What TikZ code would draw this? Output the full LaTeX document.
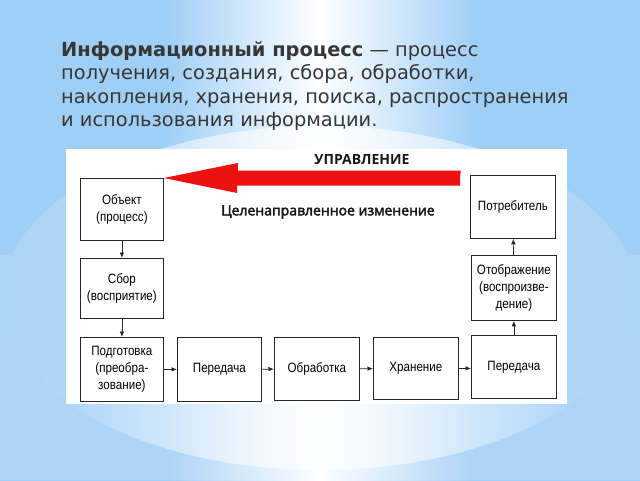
\documentclass[tikz,border=0pt]{standalone}
\usepackage{fontspec}
\setmainfont{DejaVu Sans}
\newfontfamily\boxfont[FakeStretch=0.86]{Liberation Sans}
\newfontfamily\panelfont{Open Sans}
\newfontfamily\semifont[FakeBold=3]{Open Sans}
\usetikzlibrary{arrows.meta}
\definecolor{bgblue}{RGB}{160,207,246}
\definecolor{txtgray}{RGB}{55,55,55}
\definecolor{arrred}{RGB}{236,18,18}
\pgfdeclarehorizontalshading{streak}{100bp}{color(0bp)=(bgblue); color(25bp)=(bgblue); color(38bp)=(bgblue); color(50bp)=(white); color(62bp)=(bgblue); color(75bp)=(bgblue); color(100bp)=(bgblue)}
\pgfdeclarehorizontalshading{glow}{100bp}{color(0bp)=(bgblue!89!white); color(25bp)=(bgblue!89!white); color(30bp)=(bgblue!85!white); color(38bp)=(bgblue!50!white); color(45bp)=(bgblue!15!white); color(50bp)=(white); color(55bp)=(bgblue!15!white); color(62bp)=(bgblue!50!white); color(70bp)=(bgblue!85!white); color(75bp)=(bgblue!89!white); color(100bp)=(bgblue!89!white)}
\begin{document}
\begin{tikzpicture}[x=1pt,y=-1pt,
  box/.style={draw=black!85, line width=0.8pt, fill=white, anchor=north west,
    align=center, inner sep=0pt, font=\boxfont\fontsize{13.5}{17}\selectfont},
  link/.style={-{Latex[length=5.5pt,width=4.5pt]}, line width=0.7pt, black!85}]
\useasboundingbox (0,0) rectangle (640,480);
% background
\shade[shading=streak] (0,0) rectangle (640,480);
\fill[white, opacity=0.12] (0,255) rectangle (640,480);
\shade[shading=glow] (320,298) ellipse (318 and 172);
% title
\node[anchor=north west, align=left, text=txtgray, inner sep=0pt,
  font=\fontsize{19.4}{23.5}\selectfont] (title) at (61,41)
  {\textbf{Информационный процесс} — процесс\\
   получения, создания, сбора, обработки,\\
   накопления, хранения, поиска, распространения\\
   и использования информации.};
% panel
\fill[white] (66,149) rectangle (567,404);
% boxes
\node[box, minimum width=83pt, minimum height=62pt] (obj) at (80,178) {Объект\\(процесс)};
\node[box, minimum width=83pt, minimum height=60pt] (sbor) at (80,258) {Сбор\\(восприятие)};
\node[box, minimum width=83pt, minimum height=64pt] (podg) at (80,337) {Подготовка\\(преобра-\\зование)};
\node[box, minimum width=84pt, minimum height=64pt] (per1) at (177,337) {Передача};
\node[box, minimum width=85pt, minimum height=63pt] (obr) at (274,337) {Обработка};
\node[box, minimum width=85pt, minimum height=62pt] (hran) at (373,337) {Хранение};
\node[box, minimum width=85pt, minimum height=63pt] (per2) at (471,335) {Передача};
\node[box, minimum width=85pt, minimum height=65pt] (otob) at (471,255) {Отображение\\(воспроизве-\\дение)};
\node[box, minimum width=85pt, minimum height=63pt] (potr) at (470,175) {Потребитель};
% connectors
\draw[link] (obj) -- (sbor);
\draw[link] (sbor) -- (podg);
\draw[link] (podg) -- (per1);
\draw[link] (per1) -- (obr);
\draw[link] (obr) -- (hran);
\draw[link] (hran.east) -- (per2.west |- hran.east);
\draw[link] (per2) -- (otob);
\draw[link] (otob) -- (potr);
% control arrow
\coordinate (ctrlstart) at (460,178);
\fill[arrred] (obj.north east) -- ++(74,-15) -- ++(0,7.5) -- ++(223,0) -- (ctrlstart)
  -- ++(0,7.5) -- ++(-223,0) -- ++(0,7.5) -- cycle;
\node[font=\panelfont\bfseries\fontsize{14}{16}\selectfont, inner sep=0pt, text=black!90] (upr) at (362,160) {УПРАВЛЕНИЕ};
\node[font=\semifont\fontsize{14}{16}\selectfont, inner sep=0pt, text=black!90] (cel) at (328,212) {Целенаправленное изменение};
\end{tikzpicture}
\end{document}
